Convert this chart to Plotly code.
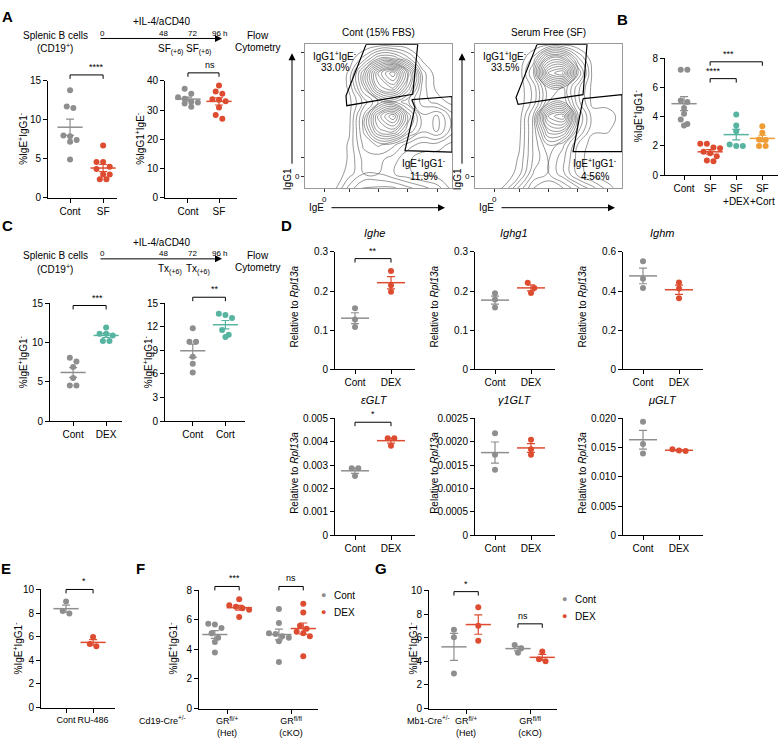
import math
import statistics
import plotly.graph_objects as go

W, H = 782, 746
FONT = "Liberation Sans, Arial, sans-serif"
GREY, RED, TEAL, ORANGE = "#8e8e8e", "#dd4c30", "#56b4a1", "#ee9c35"

# ---------------- data ----------------
# A: serum free vs control
a_cats = ["Cont", "SF"]
a_cont_ige = [13.8, 11.7, 11.5, 8.0, 7.9, 7.4, 7.2, 4.9]
a_sf_ige = [6.7, 4.6, 4.6, 4.0, 3.7, 3.0, 3.0, 2.4, 2.4]
a_cont_igg1 = [37.3, 35.6, 34.4, 33.9, 32.8, 32.6, 32.2, 31.1]
a_sf_igg1 = [38.4, 36.3, 35.6, 33.7, 33.5, 33.0, 30.9, 28.3, 27.0]

# A: flow plots, density grid (rows = IgG1 from low to high, cols = IgE)
flow_grid_x = [0, 10, 20, 30, 40, 50, 60, 70, 80, 90, 100]
flow_grid_y = [0, 10, 20, 30, 40, 50, 60, 70, 80, 90, 100]
cont_density = [
    [0, 0.1, 0.5, 2, 3, 3, 3, 2.5, 2, 1.5, 0.5],
    [0, 0, 0.2, 1, 1.8, 1.8, 1.3, 0.8, 0.5, 0.4, 0.2],
    [0, 0, 0.1, 0.8, 2, 2, 1.5, 0.8, 0.4, 0.3, 0.2],
    [0, 0, 0.1, 0.8, 2.5, 3, 2.5, 1.5, 1, 1, 0.5],
    [0, 0, 0.1, 0.6, 3, 6, 6.5, 4, 2.5, 3, 1.5],
    [0, 0, 0.1, 0.5, 3, 7, 9, 5, 2.5, 3, 1.5],
    [0, 0, 0.1, 0.5, 2, 3.5, 4, 3, 1.5, 1, 0.5],
    [0, 0, 0.1, 0.8, 3.5, 7, 8, 5, 1.5, 0.5, 0.2],
    [0, 0, 0.1, 0.8, 4, 8, 10, 6, 1.5, 0.3, 0],
    [0, 0, 0, 0.3, 1.5, 3.5, 3.5, 2, 0.5, 0.1, 0],
    [0, 0, 0, 0, 0.1, 0.3, 0.3, 0.2, 0, 0, 0],
]
sf_density = [
    [0, 0.2, 0.8, 2.5, 4, 4.5, 4, 3, 2, 1, 0.3],
    [0, 0, 0.2, 1, 3, 3.5, 2.5, 1, 0.4, 0.2, 0.1],
    [0, 0, 0, 0.8, 2.5, 3.5, 2.5, 1, 0.3, 0.1, 0],
    [0, 0, 0, 0.6, 2.5, 4, 3, 1.2, 0.4, 0.2, 0.1],
    [0, 0, 0, 0.5, 2.5, 6, 6, 2.5, 0.8, 0.8, 0.2],
    [0, 0, 0, 0.4, 2.5, 8, 9, 3, 1, 1.2, 0.3],
    [0, 0, 0, 0.3, 1.5, 4, 4.5, 2, 0.5, 0.3, 0.1],
    [0, 0, 0, 0.3, 1.5, 4, 4, 2, 0.5, 0.2, 0],
    [0, 0, 0, 0.3, 2.5, 8, 9, 3.5, 0.5, 0.1, 0],
    [0, 0, 0, 0.2, 1.5, 5, 5, 2, 0.3, 0, 0],
    [0, 0, 0, 0, 0.2, 0.5, 0.5, 0.2, 0, 0, 0],
]
cont_gate1_x = [41.6, 76.7, 73.3, 28.4, 27.9, 41.6]
cont_gate1_y = [100, 100, 65.3, 57.3, 64.2, 100]
cont_gate2_x = [72.6, 100, 100, 68, 74.8, 72.6]
cont_gate2_y = [61.6, 63.7, 25, 26, 56, 61.6]
sf_gate1_x = [42.2, 76.2, 73.5, 61.2, 29.3, 27.9, 42.2]
sf_gate1_y = [100, 100, 65, 63, 58.2, 63, 100]
sf_gate2_x = [73.5, 100, 100, 66.7, 73.5]
sf_gate2_y = [62.3, 65, 25.3, 25.3, 62.3]
cont_pcts = ["33.0%", "11.9%"]
sf_pcts = ["33.5%", "4.56%"]

# B
b_cats = ["Cont", "SF", "SF<br>+DEX", "SF<br>+Cort"]
b_cont = [7.2, 7.2, 5.1, 5.0, 4.6, 4.2, 3.8, 3.5, 3.4]
b_sf = [2.15, 2.15, 1.9, 1.85, 1.6, 1.5, 1.3, 1.0, 0.95]
b_sf_dex = [4.15, 3.4, 3.0, 2.1, 2.0, 2.0]
b_sf_cort = [3.35, 2.9, 2.45, 2.4, 2.0, 2.0]

# C
c_cont_dex = [8.05, 7.6, 6.9, 5.5, 4.55, 4.55]
c_dex = [11.9, 11.1, 11.1, 10.9, 10.2, 10.2]
c_cont_cort = [11.8, 10.1, 10.1, 8.2, 7.3, 6.2]
c_cort = [13.65, 13.5, 13.1, 11.6, 11.0, 10.7]

# D
d_cats = ["Cont", "DEX"]
d_titles = ["Ighe", "Ighg1", "Ighm", "εGLT", "γ1GLT", "μGLT"]
ighe_cont, ighe_dex = [0.156, 0.127, 0.108], [0.251, 0.215, 0.198]
ighg1_cont, ighg1_dex = [0.194, 0.178, 0.158], [0.221, 0.208, 0.195]
ighm_cont, ighm_dex = [0.553, 0.463, 0.416], [0.443, 0.413, 0.363]
eglt_cont, eglt_dex = [0.00287, 0.00287, 0.00253], [0.00415, 0.00415, 0.00383]
g1glt_cont, g1glt_dex = [0.00218, 0.00172, 0.00140], [0.00204, 0.00184, 0.00172]
uglt_cont, uglt_dex = [0.0194, 0.0156, 0.0140], [0.0147, 0.0145, 0.0144]
d_ticks_small = ["0", "0.0005", "0.0010", "0.0015", "0.0020", "0.0025"]
d_ticks_mu = ["0", "0.005", "0.010", "0.015", "0.020"]

# E
e_cats = ["Cont", "RU-486"]
e_cont = [8.97, 8.18, 7.97]
e_ru = [5.97, 5.39, 5.19]

# F / G
gr_cats = ["GR<sup>fl/+</sup><br>(Het)", "GR<sup>fl/fl</sup><br>(cKO)"]
legend_names = ["Cont", "DEX"]
f_het_cont = [5.75, 5.7, 5.45, 5.1, 4.8, 4.5, 3.8]
f_het_dex = [7.4, 7.0, 6.9, 6.8, 6.7, 6.2]
f_cko_cont = [6.75, 5.8, 5.1, 5.05, 4.9, 4.8, 4.55, 3.15]
f_cko_dex = [7.1, 6.5, 5.6, 5.4, 5.2, 5.1, 4.9, 3.55]
g_het_cont = [6.67, 6.03, 2.97]
g_het_dex = [8.58, 7.0, 5.75]
g_cko_cont = [5.39, 5.11, 4.72]
g_cko_dex = [4.83, 4.17, 4.0]

IGE_T = "%IgE<sup>+</sup>IgG1<sup>-</sup>"
IGG_T = "%IgG1<sup>+</sup>IgE<sup>-</sup>"
RPL = "Relative to <i>Rpl13a</i>"

# ---------------- helpers ----------------
fig = go.Figure()
AX = {}


def fx(px):
    return px / W


def fy(py):
    return 1 - py / H


axis_style = dict(showline=True, linecolor="black", linewidth=1, ticks="outside", ticklen=4,
                  tickwidth=1, tickcolor="black", showgrid=False, zeroline=False, tickangle=0,
                  tickfont=dict(size=10, color="black"), fixedrange=True, tickmode="array")


def add_axes(key, box, xr, yr, xt, xtext, yt, ytext=None, flow=False, xfont=10):
    i = len(AX) + 1
    s = "" if i == 1 else str(i)
    l, r, t, b = box
    st = dict(axis_style)
    if flow:
        st.update(mirror=True, linecolor="#9a9a9a", ticklen=3, tickcolor="#333",
                  tickfont=dict(size=8, color="black"))
    xa = dict(st, domain=[fx(l), fx(r)], range=xr, anchor="y" + s, tickvals=xt, ticktext=xtext)
    if not flow:
        xa["tickfont"] = dict(size=xfont, color="black")
    ya = dict(st, domain=[fy(b), fy(t)], range=yr, anchor="x" + s, tickvals=yt, ticktext=ytext)
    fig.update_layout({"xaxis" + s: xa, "yaxis" + s: ya})
    AX[key] = dict(x="x" + s, y="y" + s, l=l, r=r, t=t, b=b, xr=xr, yr=yr)
    return AX[key]


def px_x(ax, v):
    return ax["l"] + (v - ax["xr"][0]) / (ax["xr"][1] - ax["xr"][0]) * (ax["r"] - ax["l"])


def px_y(ax, v):
    return ax["b"] - (v - ax["yr"][0]) / (ax["yr"][1] - ax["yr"][0]) * (ax["b"] - ax["t"])


def swarm(ax, xc, vals, step=6.6):
    ppx = (ax["r"] - ax["l"]) / (ax["xr"][1] - ax["xr"][0])
    ppy = (ax["b"] - ax["t"]) / (ax["yr"][1] - ax["yr"][0])
    order = sorted(range(len(vals)), key=lambda i: -vals[i])
    rows = []
    for i in order:
        if rows and abs(vals[rows[-1][0]] - vals[i]) * ppy < step * 0.85:
            rows[-1].append(i)
        else:
            rows.append([i])
    xs = [0] * len(vals)
    for row in rows:
        n = len(row)
        for k, i in enumerate(sorted(row)):
            xs[i] = xc + (k - (n - 1) / 2) * step / ppx
    return xs


def group(ax, xc, vals, color, name=None, width=18):
    xs = swarm(ax, xc, vals)
    fig.add_trace(go.Scatter(x=xs, y=vals, mode="markers", marker=dict(size=6, color=color),
                             xaxis=ax["x"], yaxis=ax["y"], cliponaxis=False, hoverinfo="skip",
                             name=name, showlegend=False))
    m = statistics.mean(vals)
    se = statistics.stdev(vals) / math.sqrt(len(vals))
    fig.add_trace(go.Scatter(x=[xc], y=[m], mode="markers",
                             marker=dict(symbol="line-ew", size=width, line=dict(width=1.5, color=color)),
                             error_y=dict(type="data", array=[se], color=color, thickness=1.2, width=4),
                             xaxis=ax["x"], yaxis=ax["y"], cliponaxis=False, hoverinfo="skip",
                             showlegend=False))


def bracket(ax, x1, x2, level, text, leg=4):
    X1, X2, Y = px_x(ax, x1), px_x(ax, x2), px_y(ax, level)
    fig.add_shape(type="path", xref="paper", yref="paper",
                  path=f"M {fx(X1)},{fy(Y + leg)} L {fx(X1)},{fy(Y)} L {fx(X2)},{fy(Y)} L {fx(X2)},{fy(Y + leg)}",
                  line=dict(color="black", width=1))
    fig.add_annotation(x=fx((X1 + X2) / 2), y=fy(Y - 1), xref="paper", yref="paper", text=text,
                       showarrow=False, yanchor="bottom", font=dict(size=9))


def txt(x, y, s, size=10, angle=0, xanchor="center", bold=False, color="black"):
    if bold:
        s = "<b>" + s + "</b>"
    fig.add_annotation(x=fx(x), y=fy(y), xref="paper", yref="paper", text=s, showarrow=False,
                       font=dict(size=size, color=color), textangle=angle, xanchor=xanchor,
                       yanchor="middle")


def arrow(x0, y0, x1, y1):
    fig.add_annotation(x=fx(x1), y=fy(y1), xref="paper", yref="paper", ax=x0 - x1, ay=y0 - y1,
                       axref="pixel", ayref="pixel", text="", showarrow=True, arrowhead=2,
                       arrowsize=1.4, arrowwidth=1, arrowcolor="black")


def key_legend(x, y):
    for k, (nm, col) in enumerate(zip(legend_names, [GREY, RED])):
        txt(x, y + 17 * k, "●", size=9, color=col)
        txt(x + 9, y + 17 * k, nm, size=10, xanchor="left")


def timeline(y0, treat):
    txt(55, y0 - 3, "Splenic B cells")
    txt(55, y0 + 10, "(CD19<sup>+</sup>)")
    txt(161, y0 - 17, "+IL-4/aCD40")
    arrow(99, y0, 222, y0)
    txt(103, y0 - 5, "0", size=8)
    txt(163, y0 - 5, "48", size=8)
    txt(192, y0 - 5, "72", size=8)
    txt(220, y0 - 5, "96 h", size=8)
    txt(170, y0 + 11, treat + "<sub>(+6)</sub>")
    txt(198, y0 + 11, treat + "<sub>(+6)</sub>")
    txt(258, y0 - 3, "Flow")
    txt(258, y0 + 9, "Cytometry")


# ---------------- panel A ----------------
txt(7, 11, "A", size=15, bold=True)
timeline(33, "SF")

ax = add_axes("a1", (48, 117, 76, 195), [-0.667, 1.42], [0, 15], [0, 1], a_cats, [0, 5, 10, 15])
group(ax, 0, a_cont_ige, GREY)
group(ax, 1, a_sf_ige, RED)
bracket(ax, 0, 1, 15.75, "****")
txt(23, 135, IGE_T, angle=-90)

ax = add_axes("a2", (165, 237, 76, 195), [-0.74, 1.58], [0, 40], [0, 1], a_cats, [0, 10, 20, 30, 40])
group(ax, 0, a_cont_igg1, GREY)
group(ax, 1, a_sf_igg1, RED)
bracket(ax, 0, 1, 42.7, "ns")
txt(140, 135, IGG_T, angle=-90)


def flow(key, left, title, dens, g1x, g1y, g2x, g2y, pcts, right_lab_x):
    ax = add_axes(key, (left, left + 147, 39, 185), [0, 100], [0, 100],
                  [13, 30, 50, 70, 90], ["0", "", "", "", ""],
                  [8, 21, 47, 68, 94], ["0", "", "", "", ""], flow=True)
    fig.add_trace(go.Contour(x=flow_grid_x, y=flow_grid_y, z=dens, xaxis=ax["x"], yaxis=ax["y"],
                             contours=dict(coloring="lines", start=0.7, end=10, size=0.55),
                             line=dict(width=0.6, color="#505050", smoothing=1.3),
                             colorscale=[[0, "#505050"], [1, "#505050"]], showscale=False,
                             hoverinfo="skip"))
    for gx, gy in ((g1x, g1y), (g2x, g2y)):
        fig.add_trace(go.Scatter(x=gx, y=gy, mode="lines", line=dict(color="black", width=1.2),
                                 xaxis=ax["x"], yaxis=ax["y"], hoverinfo="skip", showlegend=False,
                                 cliponaxis=False))
    txt(left + 73, 27, title)
    txt(left + 30, 51, "IgG1<sup>+</sup>IgE<sup>-</sup>")
    txt(left + 30, 63, pcts[0])
    txt(right_lab_x, 160, "IgE<sup>+</sup>IgG1<sup>-</sup>")
    txt(right_lab_x, 173, pcts[1])
    arrow(left - 13, 160, left - 13, 48)
    txt(left - 18, 176, "IgG1", angle=-90)
    arrow(left + 25, 205, left + 140, 205)
    txt(left + 11, 205, "IgE")


flow("f1", 305, "Cont (15% FBS)", cont_density, cont_gate1_x, cont_gate1_y,
     cont_gate2_x, cont_gate2_y, cont_pcts, 424)
flow("f2", 475, "Serum Free (SF)", sf_density, sf_gate1_x, sf_gate1_y,
     sf_gate2_x, sf_gate2_y, sf_pcts, 595)

# ---------------- panel B ----------------
txt(622, 14, "B", size=15, bold=True)
ax = add_axes("b", (665, 778, 53, 172), [-0.73, 3.6], [0, 8], [0, 1, 2, 3], b_cats, [0, 2, 4, 6, 8])
group(ax, 0, b_cont, GREY)
group(ax, 1, b_sf, RED)
group(ax, 2, b_sf_dex, TEAL)
group(ax, 3, b_sf_cort, ORANGE)
bracket(ax, 1, 2, 6.6, "****")
bracket(ax, 1, 3, 7.75, "***")
txt(638, 112, IGE_T, angle=-90)

# ---------------- panel C ----------------
txt(7, 223, "C", size=15, bold=True)
timeline(257, "Tx")
ax = add_axes("c1", (50, 122, 302, 422), [-0.7, 1.48], [0, 15], [0, 1], ["Cont", "DEX"],
              [0, 5, 10, 15])
group(ax, 0, c_cont_dex, GREY)
group(ax, 1, c_dex, TEAL)
bracket(ax, 0, 1, 14.7, "***")
txt(23, 362, IGE_T, angle=-90)

ax = add_axes("c2", (165, 245, 302, 422), [-0.85, 1.6], [0, 15], [0, 1], ["Cont", "Cort"],
              [0, 3, 6, 9, 12, 15])
group(ax, 0, c_cont_cort, GREY)
group(ax, 1, c_cort, TEAL)
bracket(ax, 0, 1, 15.75, "**")
txt(148, 362, IGE_T, angle=-90)

# ---------------- panel D ----------------
txt(286, 223, "D", size=15, bold=True)
d_sets = [
    (ighe_cont, ighe_dex, [0, 0.3], [0, 0.1, 0.2, 0.3], None),
    (ighg1_cont, ighg1_dex, [0, 0.3], [0, 0.1, 0.2, 0.3], None),
    (ighm_cont, ighm_dex, [0, 0.6], [0, 0.2, 0.4, 0.6], None),
    (eglt_cont, eglt_dex, [0, 0.005], [0, 0.001, 0.002, 0.003, 0.004, 0.005], None),
    (g1glt_cont, g1glt_dex, [0, 0.0025], [0, 0.0005, 0.001, 0.0015, 0.002, 0.0025], d_ticks_small),
    (uglt_cont, uglt_dex, [0, 0.02], [0, 0.005, 0.01, 0.015, 0.02], d_ticks_mu),
]
d_left = [335, 475, 623]
for k, (cv, dv, yr, yt, ytext) in enumerate(d_sets):
    row, col = divmod(k, 3)
    top, bot = (250, 369) if row == 0 else (419, 538)
    l = d_left[col]
    ax = add_axes("d%d" % k, (l, l + 80, top, bot), [-0.556, 1.667], yr, [0, 1], d_cats, yt, ytext)
    group(ax, 0, cv, GREY, width=20)
    group(ax, 1, dv, RED, width=20)
    txt(l + 39, top - 19, "<i>" + d_titles[k] + "</i>", size=11)
    txt(l - 40, (top + bot) / 2 - 4, RPL, angle=-90)
bracket(AX["d0"], 0, 1, 0.283, "**")
bracket(AX["d3"], 0, 1, 0.00483, "*")

# ---------------- panel E ----------------
txt(6, 572, "E", size=15, bold=True)
ax = add_axes("e", (41, 115, 593, 713), [-0.926, 1.81], [0, 10], [0, 1], e_cats, [0, 2, 4, 6, 8, 10],
              xfont=9)
group(ax, 0, e_cont, GREY)
group(ax, 1, e_ru, RED)
bracket(ax, 0, 1, 10.0, "*")
txt(18, 653, IGE_T, angle=-90)

# ---------------- panel F ----------------
txt(140, 572, "F", size=15, bold=True)
ax = add_axes("f", (199, 318, 594, 714), [-0.4375, 1.42], [0, 8], [0, 1], gr_cats, [0, 2, 4, 6, 8],
              xfont=9)
group(ax, -0.19, f_het_cont, GREY, name="Cont")
group(ax, 0.19, f_het_dex, RED, name="DEX")
group(ax, 1 - 0.19, f_cko_cont, GREY)
group(ax, 1 + 0.19, f_cko_dex, RED)
bracket(ax, -0.19, 0.19, 8.27, "***")
bracket(ax, 1 - 0.19, 1 + 0.19, 8.27, "ns")
txt(173, 653, IGE_T, angle=-90)
txt(188, 726, "Cd19-Cre<sup>+/-</sup>", size=9, xanchor="right")
key_legend(323, 599)

# ---------------- panel G ----------------
txt(381, 572, "G", size=15, bold=True)
ax = add_axes("g", (429, 557, 594, 714), [-0.58, 1.42], [0, 10], [0, 1], gr_cats,
              [0, 2, 4, 6, 8, 10], xfont=9)
group(ax, -0.19, g_het_cont, GREY, name="Cont")
group(ax, 0.19, g_het_dex, RED, name="DEX")
group(ax, 1 - 0.19, g_cko_cont, GREY)
group(ax, 1 + 0.19, g_cko_dex, RED)
bracket(ax, -0.19, 0.19, 9.9, "*")
bracket(ax, 1 - 0.19, 1 + 0.19, 7.17, "ns")
txt(413, 653, IGE_T, angle=-90)
txt(452, 726, "Mb1-Cre<sup>+/-</sup>", size=9, xanchor="right")
key_legend(564, 603)

fig.update_layout(
    width=W, height=H, margin=dict(l=0, r=0, t=0, b=0),
    paper_bgcolor="white", plot_bgcolor="white",
    font=dict(family=FONT, size=10, color="black"),
    showlegend=False,
)

# the page's default 8px body margin would push the 782x746 figure off the window
fig.write_html("out.html", config={"displayModeBar": False},
               post_script="document.body.style.margin='0px';")
